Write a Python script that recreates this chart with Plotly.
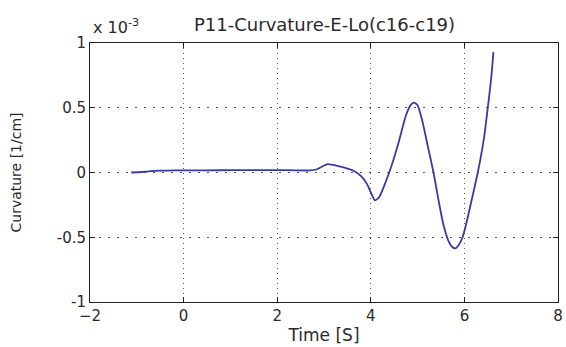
import plotly.graph_objects as go

# Curvature trace (values in units of 1e-3 1/cm)
time_s = [-1.12, -0.9, -0.7, -0.5, -0.2, 0.0, 0.5, 1.0, 1.5, 2.0, 2.4, 2.7,
          2.85, 2.98, 3.08, 3.2, 3.35, 3.5, 3.65, 3.8, 3.92, 4.02, 4.09,
          4.18, 4.3, 4.45, 4.6, 4.75, 4.85, 4.92, 5.0, 5.1, 5.22, 5.34,
          5.45, 5.55, 5.65, 5.74, 5.81, 5.88, 5.96, 6.05, 6.15, 6.25, 6.33,
          6.42, 6.5, 6.57, 6.62]
curvature = [0.0, 0.004, 0.01, 0.014, 0.016, 0.017, 0.017, 0.018, 0.018, 0.018,
             0.017, 0.016, 0.025, 0.05, 0.065, 0.058, 0.045, 0.03, 0.01, -0.03,
             -0.09, -0.17, -0.215, -0.19, -0.09, 0.06, 0.24, 0.44, 0.52, 0.54,
             0.52, 0.4, 0.2, 0.0, -0.22, -0.4, -0.52, -0.575, -0.585, -0.56,
             -0.5, -0.38, -0.22, -0.06, 0.08, 0.27, 0.5, 0.72, 0.93]

x_ticks = [-2, 0, 2, 4, 6, 8]
y_ticks = [-1, -0.5, 0, 0.5, 1]
y_tick_text = ["-1", "-0.5", "0", "0.5", "1"]

title_text = "P11-Curvature-E-Lo(c16-c19)"
x_title = "Time [S]"
y_title = "Curvature [1/cm]"

font_family = "DejaVu Sans, Arial, sans-serif"
text_color = "#2a2a2a"

fig = go.Figure()
fig.add_trace(go.Scatter(
    x=time_s, y=curvature, mode="lines",
    line=dict(color="#3a3aa6", width=1.8, shape="spline", smoothing=0.6),
    showlegend=False,
))

axis_common = dict(
    showline=True, linecolor="#222", linewidth=1, mirror="ticks",
    ticks="inside", ticklen=5, tickcolor="#222",
    showgrid=True, gridcolor="#555", gridwidth=1,
    zeroline=False, automargin=False,
    tickfont=dict(family=font_family, size=15, color=text_color),
)

fig.update_xaxes(
    range=[-2, 8], tickvals=x_ticks, griddash="1px,4px", **axis_common,
    title=dict(text=x_title, font=dict(family=font_family, size=17, color=text_color), standoff=5),
)
fig.update_yaxes(
    range=[-1, 1], tickvals=y_ticks, ticktext=y_tick_text, griddash="2px,7px", **axis_common,
    title=dict(text=y_title, font=dict(family=font_family, size=14, color=text_color), standoff=31),
)

fig.add_annotation(
    text=title_text, xref="paper", yref="paper", x=0.5, y=1.0,
    yshift=19, xanchor="center", yanchor="middle", showarrow=False,
    font=dict(family=font_family, size=18, color=text_color),
)
fig.add_annotation(
    text="x 10<sup>-3</sup>", xref="paper", yref="paper", x=0.003, y=1.0,
    yshift=17, xanchor="left", yanchor="middle", showarrow=False,
    font=dict(family=font_family, size=16, color=text_color),
)

fig.update_layout(
    width=566, height=347,
    margin=dict(l=90, r=8, t=43, b=45),
    paper_bgcolor="white", plot_bgcolor="white",
)

fig.write_html("out.html")
